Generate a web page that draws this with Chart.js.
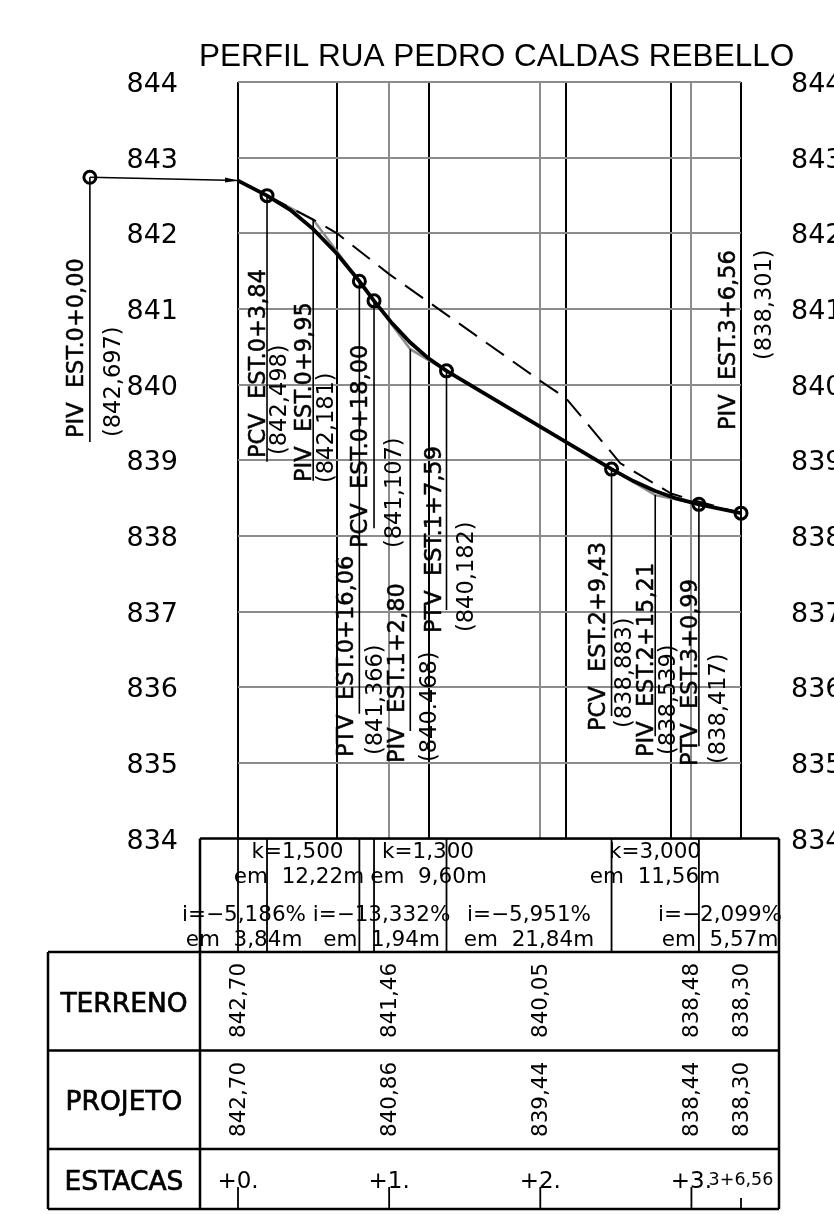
<!DOCTYPE html>
<html>
<head>
<meta charset="utf-8">
<title>Perfil</title>
<script src="https://cdn.jsdelivr.net/npm/chart.js@4"></script>
<style>
html, body { margin: 0; padding: 0; background: #fff; }
canvas { display: block; }
</style>
</head>
<body>
<canvas id="perfil" width="834" height="1214"></canvas>
<script>
const cotasEixo = [844, 843, 842, 841, 840, 839, 838, 837, 836, 835, 834];
const estacasCinza = [20, 40, 60];
const estacasPretas = [0, 13.1, 25.3, 43.4, 57.3, 66.56];

// projeto (linha grossa)
const projetoX = [0, 3.84, 6.9, 9.95, 13, 16.06, 18, 20.4, 22.8, 25.2, 27.59, 49.43, 52.32, 55.21, 58.1, 60.99, 66.56];
const projetoY = [842.697, 842.498, 842.31, 842.056, 841.74, 841.366, 841.107, 840.81, 840.556, 840.347, 840.182, 838.883, 838.725, 838.594, 838.492, 838.417, 838.301];

// tangentes (linha cinza)
const tangenteX = [0, 9.95, 22.8, 55.21, 66.56];
const tangenteY = [842.697, 842.181, 840.468, 838.539, 838.301];

// terreno (tracejado)
const terrenoX = [0, 9.95, 13.1, 20, 40, 43.4, 50.6, 57.3, 60, 66.56];
const terrenoY = [842.7, 842.18, 842, 841.46, 840.05, 839.82, 838.96, 838.56, 838.48, 838.3];

// pontos notaveis
const pontosNome = ['PIV  EST.0+0,00', 'PCV  EST.0+3,84', 'PIV  EST.0+9,95', 'PTV  EST.0+16,06', 'PCV  EST.0+18,00', 'PIV  EST.1+2,80', 'PTV  EST.1+7,59', 'PCV  EST.2+9,43', 'PIV  EST.2+15,21', 'PTV  EST.3+0,99', 'PIV  EST.3+6,56'];
const pontosCota = ['(842,697)', '(842,498)', '(842,181)', '(841,366)', '(841,107)', '(840.468)', '(840,182)', '(838,883)', '(838,539)', '(838,417)', '(838,301)'];
const pontosX = [-19.6, 3.84, 9.95, 16.06, 18, 22.8, 27.59, 49.43, 55.21, 60.99, 66.56];
const pontosY = [842.74, 842.498, 842.181, 841.366, 841.107, 840.468, 840.182, 838.883, 838.539, 838.417, 838.301];
const pontosFim = [839.24, 838.98, 838.73, 835.65, 838.1, 835.42, 837.02, 835.62, 835.35, 835.22, 839.14];
const pontosComBolha = [false, true, false, true, true, false, true, true, false, true, true];

// tabela
const terrenoTabela = ['842,70', '841,46', '840,05', '838,48', '838,30'];
const projetoTabela = ['842,70', '840,86', '839,44', '838,44', '838,30'];
const estacasTabela = [0, 20, 40, 60, 66.56];
const estacasRotulo = ['+0.', '+1.', '+2.', '+3.'];
const rampas = ['k=1,500', 'k=1,300', 'k=3,000'];
const rampasEm = ['em  12,22m', 'em  9,60m', 'em  11,56m'];
const declives = ['i=−5,186%', 'i=−13,332%', 'i=−5,951%', 'i=−2,099%'];
const decliveEm = ['em  3,84m', 'em  1,94m', 'em  21,84m', 'em  5,57m'];
const linhasTabela = ['TERRENO', 'PROJETO', 'ESTACAS'];
const divisoesTabela = [0, 3.84, 16.06, 18, 27.59, 49.43, 60.99];

const bolhaX = pontosX.filter((_, i) => pontosComBolha[i]);
const bolhaY = pontosY.filter((_, i) => pontosComBolha[i]);

function pares(xs, ys) {
    return xs.map((x, i) => ({ x: x, y: ys[i] }));
}

// invertido de proposito: o ponto PIV 0+0,00 fica fora da escala e
// o chart.js so corta pontos fora da escala quando os dados estao em ordem
function guias() {
    const out = [];
    pontosX.forEach((x, i) => {
        out.unshift({ x: x, y: null }, { x: x, y: pontosFim[i] }, { x: x, y: pontosY[i] });
    });
    return out;
}

const fonte = 'DejaVu Sans';

function texto(ctx, str, x, y, size, align, rotacionar, family, reforco) {
    ctx.save();
    ctx.font = size + 'px "' + (family || fonte) + '"';
    ctx.fillStyle = '#000';
    ctx.strokeStyle = '#000';
    ctx.textAlign = align || 'left';
    ctx.textBaseline = 'alphabetic';
    ctx.translate(x, y);
    if (rotacionar) ctx.rotate(-Math.PI / 2);
    ctx.fillText(str, 0, 0);
    if (reforco) {
        ctx.lineWidth = reforco;
        ctx.strokeText(str, 0, 0);
    }
    ctx.restore();
}

const desenhoPerfil = {
    id: 'desenhoPerfil',
    afterDraw(chart) {
        const ctx = chart.ctx;
        const sx = chart.scales.x;
        const sy = chart.scales.y;
        const px = v => sx.getPixelForValue(v);

        texto(ctx, 'PERFIL RUA PEDRO CALDAS REBELLO', 199, 66, 31.5, 'left', false, 'Liberation Sans');

        // bolha e seta do PIV 0+0,00: fora da area do grafico, o chart.js nao desenha o ponto
        const bx = px(pontosX[0]);
        const by = sy.getPixelForValue(pontosY[0]);
        ctx.save();
        ctx.strokeStyle = '#000';
        ctx.fillStyle = '#000';
        ctx.lineWidth = 3;
        ctx.beginPath();
        ctx.arc(bx, by, 6, 0, Math.PI * 2);
        ctx.stroke();
        const ax = px(0);
        const ay = sy.getPixelForValue(tangenteY[0]);
        ctx.beginPath();
        ctx.moveTo(ax, ay);
        ctx.lineTo(ax - 13, ay - 3);
        ctx.lineTo(ax - 13, ay + 2);
        ctx.closePath();
        ctx.fill();
        ctx.restore();

        // rotulos dos pontos: [base do nome, inicio do nome, base da cota, inicio da cota]
        const rotulos = [
            [83, 438, 120, 437], [265, 458, 286, 455], [311, 482, 333, 483], [353, 757, 382, 755],
            [367, 548, 401, 548], [404, 763, 436, 762], [441, 633, 473, 632], [605, 731, 631, 728],
            [653, 757, 675, 755], [697, 766, 725, 764], [735, 430, 771, 360]
        ];
        rotulos.forEach((r, i) => {
            texto(ctx, pontosNome[i], r[0], r[1], 22.5, 'left', true, null, 0.5);
            texto(ctx, pontosCota[i], r[2], r[3], 22.5, 'left', true);
        });

        // tabela
        ctx.strokeStyle = '#000';
        ctx.lineWidth = 2.5;
        ctx.beginPath();
        ctx.moveTo(200, 838.5); ctx.lineTo(779, 838.5);
        ctx.moveTo(200, 838.5); ctx.lineTo(200, 1209);
        ctx.moveTo(779, 838.5); ctx.lineTo(779, 1209);
        ctx.moveTo(48, 952); ctx.lineTo(48, 1209);
        [952, 1050.5, 1149, 1209].forEach(y => { ctx.moveTo(48, y); ctx.lineTo(779, y); });
        ctx.stroke();

        ctx.lineWidth = 1.8;
        ctx.beginPath();
        divisoesTabela.forEach(v => { ctx.moveTo(px(v), 838.5); ctx.lineTo(px(v), 952); });
        estacasTabela.forEach((v, i) => {
            ctx.moveTo(px(v), 1209);
            ctx.lineTo(px(v), i === 4 ? 1198 : 1187);
        });
        ctx.stroke();

        [297.5, 428, 655].forEach((x, i) => {
            texto(ctx, rampas[i], x, 858, 21.5, 'center');
        });
        [299, 428.5, 655].forEach((x, i) => {
            texto(ctx, rampasEm[i], x, 883, 21.5, 'center');
        });
        [244, 381.5, 529, 720].forEach((x, i) => {
            texto(ctx, declives[i], x, 920.5, 21.5, 'center');
            texto(ctx, decliveEm[i], x, 946, 21.5, 'center');
        });

        [1002, 1100, 1180].forEach((y, i) => {
            texto(ctx, linhasTabela[i], 124, y + 10, 26.5, 'center', false, null, 0.7);
        });

        estacasTabela.forEach((v, i) => {
            const x = px(v) + 7;
            texto(ctx, terrenoTabela[i], x, 1038, 21.5, 'left', true);
            texto(ctx, projetoTabela[i], x, 1137, 21.5, 'left', true);
            if (i < 4) texto(ctx, estacasRotulo[i], px(v), 1188, 23, 'center');
        });
        texto(ctx, '3+6,56', 741, 1185, 17.5, 'center');
    }
};

new Chart(document.getElementById('perfil'), {
    type: 'scatter',
    data: {
        datasets: [
            {
                label: 'Tangentes',
                order: 6,
                data: pares(tangenteX, tangenteY),
                showLine: true,
                borderColor: '#8c8c8c',
                borderWidth: 2.5,
                pointRadius: 0
            },
            {
                label: 'Terreno',
                order: 5,
                data: pares(terrenoX, terrenoY),
                showLine: true,
                borderColor: '#000',
                borderWidth: 2,
                borderDash: [22, 11],
                pointRadius: 0
            },
            {
                label: 'Projeto',
                order: 2,
                data: pares(projetoX, projetoY),
                showLine: true,
                borderColor: '#000',
                borderWidth: 3.8,
                pointRadius: 0
            },
            {
                label: 'Guias',
                order: 3,
                data: guias(),
                showLine: true,
                spanGaps: false,
                clip: false,
                borderColor: '#000',
                borderWidth: 1.6,
                pointRadius: 0
            },
            {
                label: 'Chamada',
                order: 4,
                data: [{ x: 0, y: tangenteY[0] }, { x: pontosX[0], y: pontosY[0] }],
                showLine: true,
                borderColor: '#000',
                borderWidth: 1.5,
                clip: false,
                pointRadius: 0
            },
            {
                label: 'Pontos',
                order: 1,
                data: pares(bolhaX, bolhaY),
                clip: false,
                pointRadius: 6,
                pointBorderWidth: 3,
                pointBorderColor: '#000',
                pointBackgroundColor: 'rgba(255,255,255,0)'
            }
        ]
    },
    options: {
        responsive: false,
        animation: false,
        devicePixelRatio: 1,
        layout: {
            autoPadding: false,
            padding: { left: 0, right: 0, top: 82, bottom: 375.5 }
        },
        plugins: {
            legend: { display: false },
            tooltip: { enabled: false }
        },
        scales: {
            x: {
                type: 'linear',
                min: 0,
                max: 66.56,
                grid: {
                    drawTicks: false,
                    lineWidth: 2,
                    color: ctx => estacasCinza.includes(ctx.tick.value) ? '#8c8c8c' : '#000'
                },
                border: { display: false },
                ticks: { display: false },
                afterBuildTicks: scale => {
                    scale.ticks = estacasCinza.concat(estacasPretas).map(v => ({ value: v }));
                }
            },
            y: {
                type: 'linear',
                position: 'left',
                min: 834,
                max: 844,
                grid: { drawTicks: false, color: '#8c8c8c', lineWidth: 2 },
                border: { display: false },
                ticks: {
                    stepSize: 1,
                    padding: 60,
                    labelOffset: 3,
                    color: '#000',
                    font: { family: fonte, size: 27 }
                },
                afterBuildTicks: scale => {
                    scale.ticks = cotasEixo.map(v => ({ value: v }));
                },
                afterFit: scale => { scale.width = 238; }
            },
            y2: {
                type: 'linear',
                position: 'right',
                display: true,
                min: 834,
                max: 844,
                grid: { display: false, drawTicks: false },
                border: { display: false },
                ticks: {
                    stepSize: 1,
                    padding: 50,
                    labelOffset: 3,
                    color: '#000',
                    font: { family: fonte, size: 27 }
                },
                afterBuildTicks: scale => {
                    scale.ticks = cotasEixo.map(v => ({ value: v }));
                },
                afterFit: scale => { scale.width = 93; }
            }
        }
    },
    plugins: [desenhoPerfil]
});
</script>
</body>
</html>
